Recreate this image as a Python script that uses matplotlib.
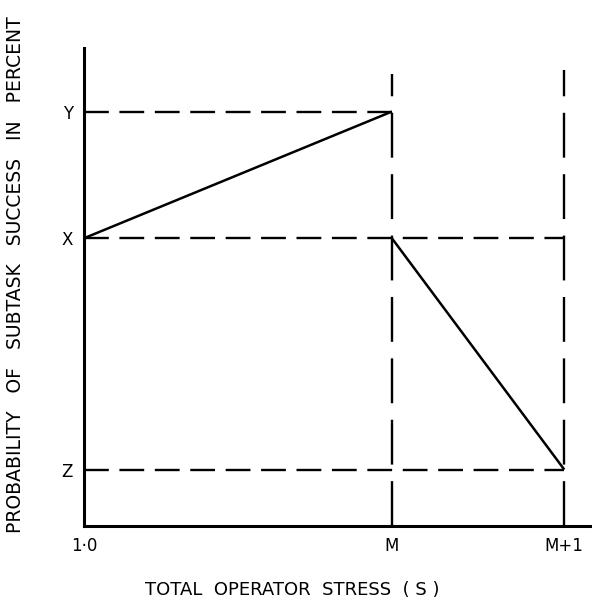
import matplotlib
matplotlib.use("Agg")
import matplotlib.pyplot as plt

# schematic positions (data units)
x_ticks = [0.0, 1.0, 1.56]
x_labels = ["1·0", "M", "M+1"]
y_levels = [0.118, 0.602, 0.867]
y_labels = ["Z", "X", "Y"]
Z, X, Y = y_levels
x_one, x_m, x_m1 = x_ticks

rise_x = [x_one, x_m]
rise_y = [X, Y]
fall_x = [x_m, x_m1]
fall_y = [X, Z]

plt.rcParams['font.family'] = ['DejaVu Sans']
fig = plt.figure(figsize=(5.92, 6.04), dpi=100)
W, H = 592, 604
ax = fig.add_axes([84/W, (H-526)/H, (W-84)/W, (526-48)/H])
ax.set_xlim(0, 1.65)
ax.set_ylim(0, 1.0)

for s in ['top', 'right']:
    ax.spines[s].set_visible(False)
for s in ['left', 'bottom']:
    ax.spines[s].set_linewidth(2.2)
    ax.spines[s].set_color('black')

hd = (0, (10.5, 4.5))
vd = (0, (19, 7))
lw = 1.7
ax.plot([x_one, x_m], [Y, Y], color='black', lw=lw, linestyle=hd, clip_on=False)
ax.plot([x_one, x_m1], [X, X], color='black', lw=lw, linestyle=hd, clip_on=False)
ax.plot([x_one, x_m1], [Z, Z], color='black', lw=lw, linestyle=hd, clip_on=False)
ax.plot([x_m, x_m], [0, 0.946], color='black', lw=lw, linestyle=vd, clip_on=False)
ax.plot([x_m1, x_m1], [0, 0.954], color='black', lw=lw, linestyle=vd, clip_on=False)

ax.plot(rise_x, rise_y, color='black', lw=1.8, solid_capstyle='butt')
ax.plot(fall_x, fall_y, color='black', lw=1.8, solid_capstyle='butt')

ax.set_xticks(x_ticks)
ax.set_xticklabels(x_labels, fontsize=12)
ax.set_yticks(y_levels)
ax.set_yticklabels(y_labels, fontsize=12)
ax.tick_params(axis='both', length=0)
ax.tick_params(axis='y', pad=8)
ax.tick_params(axis='x', pad=8)

fig.text(292/W, 1 - 590/H, "TOTAL  OPERATOR  STRESS  ( S )", fontsize=13,
         ha='center', va='center')
fig.text(16/W, 1 - 275/H, "PROBABILITY   OF   SUBTASK   SUCCESS   IN   PERCENT",
         fontsize=13.5, rotation=90, ha='center', va='center')

fig.savefig("out.png", dpi=100)
